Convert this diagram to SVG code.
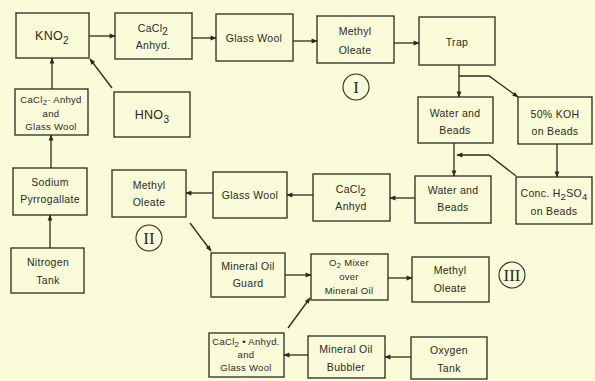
<svg xmlns="http://www.w3.org/2000/svg" width="595" height="381" viewBox="0 0 595 381">
<defs>
<marker id="ah" viewBox="0 0 10 10" refX="9" refY="5" markerWidth="7" markerHeight="6" orient="auto" markerUnits="userSpaceOnUse">
<path d="M0,1 L10,5 L0,9 Z" fill="#2a2a22"/>
</marker>
</defs>
<style>
.bx{fill:none;stroke:#2a2a22;stroke-width:1.3}
.t{font-family:"Liberation Sans",Arial,sans-serif;font-size:10.5px;fill:#2a2a22;text-anchor:middle;letter-spacing:0.3px}
.s{font-size:9.5px}
.b{font-size:12.5px}
.c{fill:none;stroke:#2a2a22;stroke-width:1.3;marker-end:url(#ah)}
.rn{fill:none;stroke:#2a2a22;stroke-width:1.1}
.r{font-family:"Liberation Serif","Times New Roman",serif;font-size:17px;fill:#2a2a22;text-anchor:middle}
</style>
<rect width="595" height="381" fill="#fafbd8"/>
<g id="connectors">
<line class="c" x1="89" y1="36" x2="115" y2="36"/>
<line class="c" x1="192" y1="38" x2="216" y2="38"/>
<line class="c" x1="293" y1="41" x2="317" y2="41"/>
<line class="c" x1="394" y1="43" x2="419" y2="43"/>
<line class="c" x1="459" y1="65" x2="459" y2="97"/>
<polyline class="c" points="459,76 489,76 518,97"/>
<line class="c" x1="454" y1="143" x2="454" y2="176"/>
<line class="c" x1="557" y1="144" x2="557" y2="177"/>
<polyline class="c" points="516,176 489,155 457,155"/>
<line class="c" x1="415" y1="198" x2="390" y2="198"/>
<line class="c" x1="313" y1="195" x2="287" y2="195"/>
<line class="c" x1="213" y1="193" x2="186" y2="193"/>
<line class="c" x1="190" y1="223" x2="211" y2="251"/>
<line class="c" x1="285" y1="275" x2="311" y2="275"/>
<line class="c" x1="388" y1="278" x2="412" y2="278"/>
<line class="c" x1="411" y1="357" x2="385" y2="357"/>
<line class="c" x1="308" y1="355" x2="284" y2="355"/>
<line class="c" x1="288" y1="328" x2="310" y2="298"/>
<line class="c" x1="50" y1="248" x2="50" y2="215"/>
<line class="c" x1="51" y1="168" x2="51" y2="135"/>
<line class="c" x1="52" y1="89" x2="52" y2="58"/>
<line class="c" x1="112" y1="88" x2="90" y2="59"/>
</g>
<g id="kno2"><rect class="bx" x="16" y="13" width="73" height="45"/><text class="t b" x="52" y="40">KNO<tspan font-size="10" dy="4">2</tspan></text></g>
<g id="cacl2-anhyd-1"><rect class="bx" x="115" y="13" width="77" height="46"/><text class="t" x="153" y="32">CaCl<tspan font-size="10" dy="3">2</tspan></text><text class="t" x="153" y="49">Anhyd.</text></g>
<g id="glass-wool-1"><rect class="bx" x="216" y="14" width="77" height="47"/><text class="t" x="254" y="42">Glass Wool</text></g>
<g id="methyl-oleate-1"><rect class="bx" x="317" y="16" width="77" height="47"/><text class="t" x="355" y="35">Methyl</text><text class="t" x="355" y="54">Oleate</text></g>
<g id="trap"><rect class="bx" x="419" y="17" width="76" height="48"/><text class="t" x="457" y="46">Trap</text></g>
<g id="water-beads-1"><rect class="bx" x="418" y="97" width="75" height="46"/><text class="t" x="455" y="117">Water and</text><text class="t" x="455" y="134">Beads</text></g>
<g id="koh"><rect class="bx" x="518" y="97" width="74" height="47"/><text class="t" x="555" y="118">50% KOH</text><text class="t" x="555" y="135">on Beads</text></g>
<g id="h2so4"><rect class="bx" x="516" y="177" width="76" height="47"/><text class="t" x="554" y="197" letter-spacing="0">Conc. H<tspan font-size="9.5" dy="3">2</tspan><tspan dy="-3">SO</tspan><tspan font-size="9.5" dy="3">4</tspan></text><text class="t" x="554" y="215">on Beads</text></g>
<g id="water-beads-2"><rect class="bx" x="415" y="176" width="76" height="47"/><text class="t" x="453" y="194">Water and</text><text class="t" x="453" y="211">Beads</text></g>
<g id="cacl2-anhyd-2"><rect class="bx" x="313" y="174" width="77" height="47"/><text class="t" x="351" y="193">CaCl<tspan font-size="10" dy="3">2</tspan></text><text class="t" x="351" y="210">Anhyd</text></g>
<g id="glass-wool-2"><rect class="bx" x="213" y="172" width="74" height="46"/><text class="t" x="250" y="199">Glass Wool</text></g>
<g id="methyl-oleate-2"><rect class="bx" x="112" y="170" width="74" height="47"/><text class="t" x="149" y="189">Methyl</text><text class="t" x="149" y="206">Oleate</text></g>
<g id="mineral-oil-guard"><rect class="bx" x="211" y="253" width="74" height="44"/><text class="t" x="248" y="270">Mineral Oil</text><text class="t" x="248" y="287">Guard</text></g>
<g id="o2-mixer"><rect class="bx" x="311" y="254" width="77" height="46"/><text class="t s" x="349" y="266">O<tspan font-size="7.5" dy="1.5">2</tspan><tspan dy="-1.5"> Mixer</tspan></text><text class="t s" x="349" y="280">over</text><text class="t s" x="349" y="294">Mineral Oil</text></g>
<g id="methyl-oleate-3"><rect class="bx" x="412" y="257" width="77" height="45"/><text class="t" x="450" y="274">Methyl</text><text class="t" x="450" y="292">Oleate</text></g>
<g id="oxygen-tank"><rect class="bx" x="411" y="337" width="76" height="42"/><text class="t" x="449" y="354">Oxygen</text><text class="t" x="449" y="372">Tank</text></g>
<g id="mineral-oil-bubbler"><rect class="bx" x="308" y="336" width="77" height="42"/><text class="t" x="346" y="353">Mineral Oil</text><text class="t" x="346" y="371">Bubbler</text></g>
<g id="cacl2-glass-wool-2"><rect class="bx" x="209" y="333" width="75" height="44"/><text class="t s" x="246" y="345" letter-spacing="0">CaCl<tspan font-size="8" dy="2">2</tspan><tspan dy="-2"> • Anhyd.</tspan></text><text class="t s" x="246" y="358">and</text><text class="t s" x="246" y="371">Glass Wool</text></g>
<g id="hno3"><rect class="bx" x="114" y="92" width="76" height="45"/><text class="t b" x="152" y="119">HNO<tspan font-size="10" dy="4">3</tspan></text></g>
<g id="cacl2-glass-wool-1"><rect class="bx" x="15" y="89" width="73" height="46"/><text class="t s" x="51" y="103" letter-spacing="0">CaCl<tspan font-size="8" dy="2">2</tspan><tspan dy="-2">· Anhyd</tspan></text><text class="t s" x="51" y="117">and</text><text class="t s" x="51" y="130">Glass Wool</text></g>
<g id="sodium-pyrrogallate"><rect class="bx" x="13" y="168" width="74" height="47"/><text class="t" x="50" y="186">Sodium</text><text class="t" x="50" y="203">Pyrrogallate</text></g>
<g id="nitrogen-tank"><rect class="bx" x="11" y="248" width="73" height="45"/><text class="t" x="48" y="266">Nitrogen</text><text class="t" x="48" y="284">Tank</text></g>
<g id="label-I"><circle class="rn" cx="356" cy="87" r="13"/><text class="r" x="356" y="93">I</text></g>
<g id="label-II"><circle class="rn" cx="149" cy="238" r="13"/><text class="r" x="149" y="244">II</text></g>
<g id="label-III"><circle class="rn" cx="512" cy="275" r="13"/><text class="r" x="512" y="281">III</text></g>
</svg>
